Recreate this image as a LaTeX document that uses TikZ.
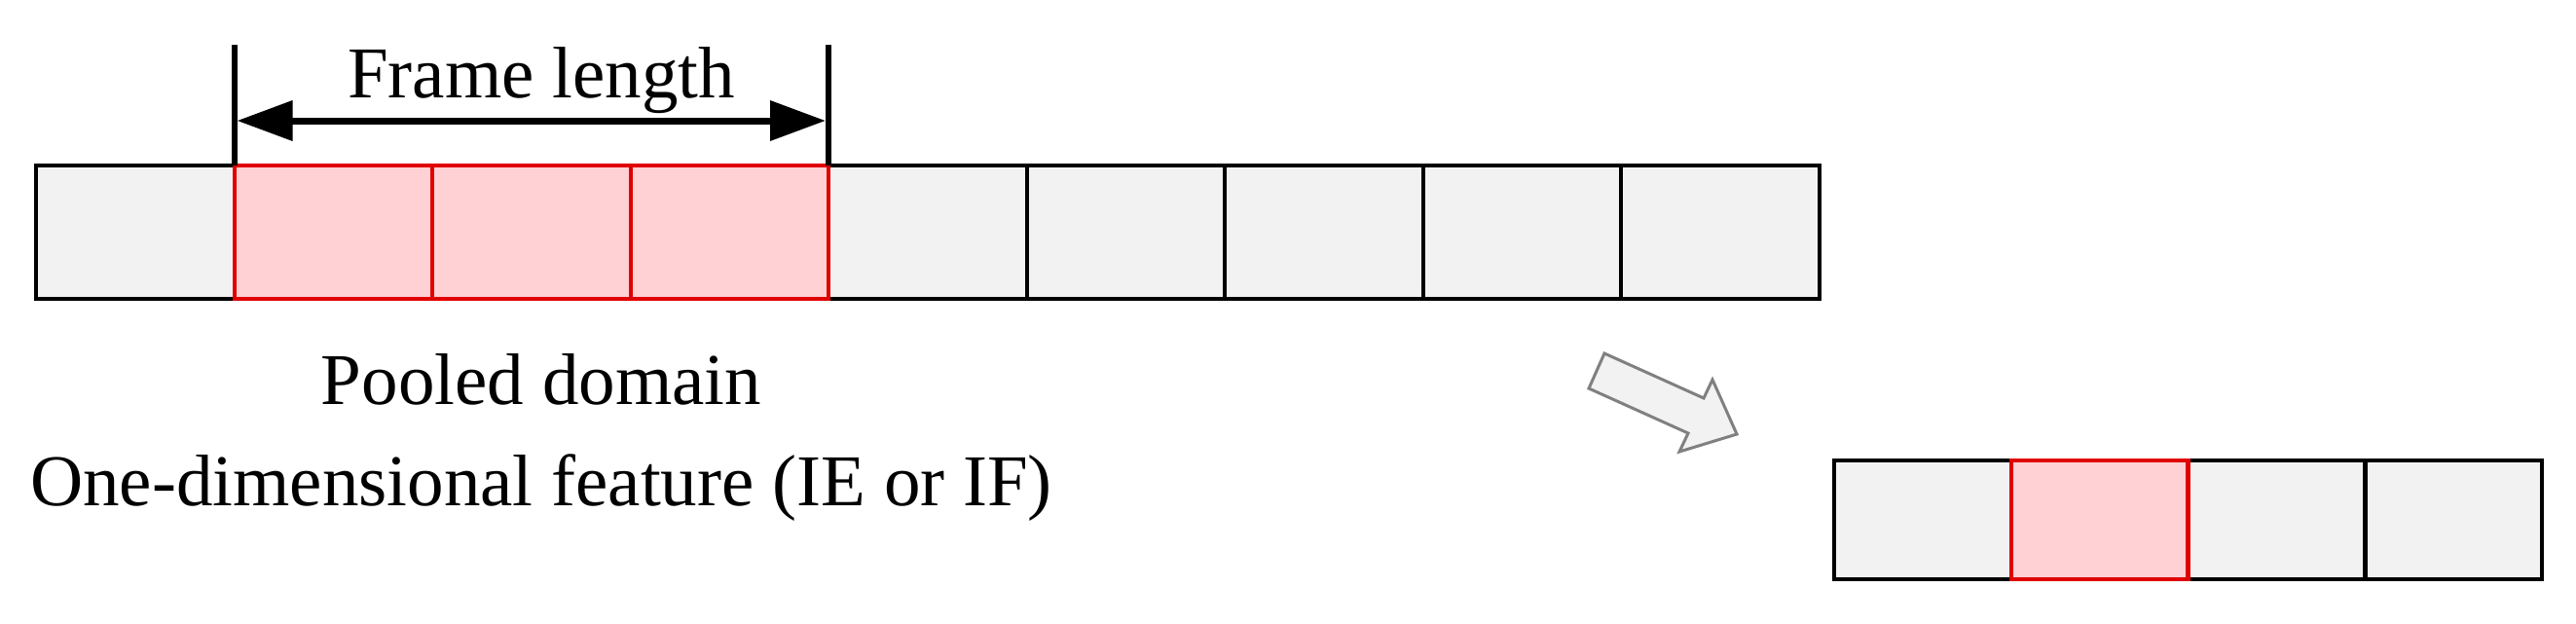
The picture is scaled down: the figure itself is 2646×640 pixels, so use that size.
\documentclass[tikz,border=0pt]{standalone}
\usepackage{fontspec}
\setmainfont{Liberation Serif}
\usetikzlibrary{arrows.meta}
\definecolor{cellgray}{HTML}{F2F2F2}
\definecolor{poolpink}{HTML}{FFD1D4}
\definecolor{poolred}{HTML}{E00000}
\definecolor{arrowgray}{HTML}{808080}
\begin{document}
\begin{tikzpicture}[x=1pt, y=-1pt,
    every node/.style = {inner sep=0, outer sep=0},
    cell/.style = {draw, line width=4pt, fill=cellgray, anchor=north west,
                   minimum width=203.5pt, minimum height=137pt},
    outcell/.style = {cell, line width=4.5pt, minimum width=181.75pt, minimum height=122pt},
    pooled/.style = {draw=poolred, fill=poolpink},
    labeltext/.style = {font=\fontsize{75}{90}\selectfont, anchor=base},
    tick/.style = {line width=6pt},
    dimarrow/.style = {line width=7pt, {Triangle[length=57pt,width=40pt]}-{Triangle[length=57pt,width=40pt]},
                       shorten <=3pt, shorten >=3pt},
    bigarrow/.style = {draw=arrowgray, fill=cellgray, line width=3pt, line join=miter},
    ]
  \useasboundingbox (0,0) rectangle (2646,640);
  % input feature
  \foreach \i in {1,5,6,7,8,9}
    \node[cell] (cell\i) at ({37+(\i-1)*203.5},170) {};
  \foreach \i in {2,3,4}
    \node[cell, pooled] (cell\i) at ({37+(\i-1)*203.5},170) {};
  % frame length
  \draw[tick] (cell2.north west) -- ++(0,-124) coordinate (tickl);
  \draw[tick] (cell4.north east) -- ++(0,-124) coordinate (tickr);
  \draw[dimarrow] ([yshift=46pt]cell2.north west) -- ([yshift=46pt]cell4.north east);
  \node[labeltext] (framelen) at (556,100) {Frame length};
  \node[labeltext] (pooldom) at (556,415) {Pooled domain};
  \node[labeltext] (feature) at (556,519) {One-dimensional feature (IE or IF)};
  % pooling arrow
  \draw[bigarrow] (1648,363) -- (1750,409) -- (1759,390) -- (1784,446)
    -- (1725,464) -- (1734,445) -- (1632,399) -- cycle;
  % pooled output
  \foreach \i in {1,3,4}
    \node[outcell] (out\i) at ({1884+(\i-1)*181.75},473) {};
  \node[outcell, pooled] (out2) at ({1884+181.75},473) {};
\end{tikzpicture}
\end{document}
